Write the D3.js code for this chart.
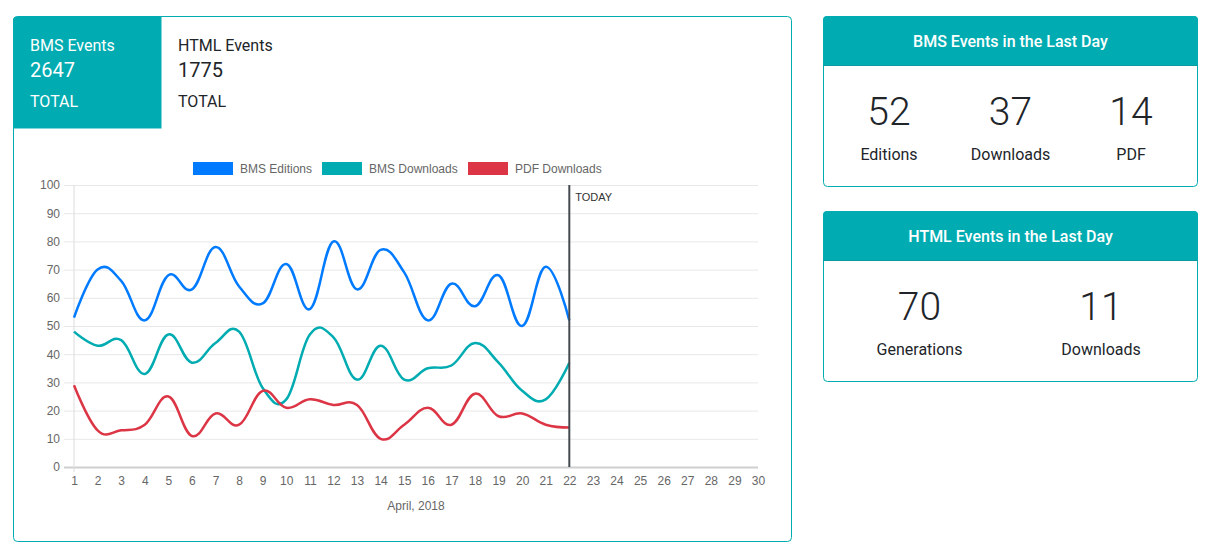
<!DOCTYPE html>
<html>
<head>
<meta charset="utf-8">
<script src="https://cdn.jsdelivr.net/npm/d3@7"></script>
<style>
  body { margin: 0; background: #fff; }
  svg { display: block; }
</style>
</head>
<body>
<div id="dash"></div>
<script>
// values
var days = ["1","2","3","4","5","6","7","8","9","10","11","12","13","14","15",
            "16","17","18","19","20","21","22","23","24","25","26","27","28","29","30"];
var bmsEditions  = [53,70,66,52,68,63,78,64,58,72,56,80,63,77,69,52,65,57,68,50,71,52];
var bmsDownloads = [48,43,45,33,47,37,44,48,28,24,47,46,31,43,31,35,36,44,37,27,24,37];
var pdfDownloads = [29,13,13,15,25,11,19,15,27,21,24,22,22,10,15,21,15,26,18,19,15,14];
var seriesNames  = ["BMS Editions", "BMS Downloads", "PDF Downloads"];
var seriesColors = ["#007bff", "#00acb1", "#dc3545"];
var yTicks = [0,10,20,30,40,50,60,70,80,90,100];
var todayLabel = "22";

var totalsLabels = ["BMS Events", "HTML Events"];
var totalsValues = [2647, 1775];
var bmsDayLabels = ["Editions", "Downloads", "PDF"];
var bmsDayValues = [52, 37, 14];
var htmlDayLabels = ["Generations", "Downloads"];
var htmlDayValues = [70, 11];

var teal = "#00acb1";
var uiFont = "Roboto, 'Noto Sans', sans-serif";
var chartFont = "'Liberation Sans', Arial, sans-serif";

var svg = d3.select('#dash').append('svg').attr('width', 1213).attr('height', 559);

// ---- left card ----
svg.append('rect').attr('x', 13.5).attr('y', 16.5).attr('width', 778).attr('height', 525)
  .attr('rx', 4).attr('fill', '#fff').attr('stroke', teal);
svg.append('path').attr('d', 'M13,128.5V20.5a4,4 0 0 1 4,-4H161.5V128.5Z').attr('fill', teal);

var totalsX = [30, 178];
totalsLabels.forEach(function(l, i) {
  var c = i == 0 ? '#fff' : '#212529';
  var g = svg.append('g').attr('font-family', uiFont).attr('fill', c);
  g.append('text').attr('x', totalsX[i]).attr('y', 51).attr('font-size', 16).text(l);
  g.append('text').attr('x', totalsX[i]).attr('y', 77).attr('font-size', 20).text(totalsValues[i]);
  g.append('text').attr('x', totalsX[i]).attr('y', 107).attr('font-size', 16).text('TOTAL');
});

// ---- chart ----
var margin = {top: 185, left: 74},
    width = 758 - 74,
    height = 467 - 185;

var x = d3.scalePoint().domain(days).range([margin.left, margin.left + width]);
var y = d3.scaleLinear().domain([0, 100]).range([margin.top + height, margin.top]);

var chart = svg.append('g').attr('font-family', chartFont);

// horizontal grid + y axis
var yAxis = d3.axisLeft(y).tickValues(yTicks).tickSize(-width - 10).tickPadding(4);
chart.append('g').attr('transform', 'translate(' + (margin.left - 10) + ',0)').call(yAxis)
  .call(function(g) {
    g.select('.domain').remove();
    g.selectAll('.tick line').attr('stroke', function(d) { return d == 0 ? '#cfcfcf' : '#e8e8e8'; })
      .attr('stroke-width', function(d) { return d == 0 ? 2 : 1; });
    g.selectAll('.tick text').attr('fill', '#666').attr('font-size', 12).attr('font-family', chartFont);
  });
chart.append('line').attr('x1', margin.left).attr('x2', margin.left)
  .attr('y1', margin.top).attr('y2', margin.top + height + 5).attr('stroke', '#dcdcdc');

var xAxis = d3.axisBottom(x).tickSize(0).tickPadding(9);
chart.append('g').attr('transform', 'translate(0,' + (margin.top + height) + ')').call(xAxis)
  .call(function(g) {
    g.select('.domain').remove();
    g.selectAll('.tick text').attr('fill', '#666').attr('font-size', 12).attr('font-family', chartFont);
  });

chart.append('text').attr('x', margin.left + width / 2).attr('y', 510).attr('text-anchor', 'middle')
  .attr('font-size', 12).attr('fill', '#666').text('April, 2018');

// lines
var line = d3.line()
  .x(function(d, i) { return x(days[i]); })
  .y(function(d) { return y(d); })
  .curve(d3.curveCardinal.tension(-0.2));

[bmsEditions, bmsDownloads, pdfDownloads].forEach(function(s, i) {
  chart.append('path').datum(s).attr('d', line).attr('fill', 'none')
    .attr('stroke', seriesColors[i]).attr('stroke-width', 2.5);
});

// today marker
chart.append('line').attr('x1', x(todayLabel)).attr('x2', x(todayLabel))
  .attr('y1', margin.top).attr('y2', margin.top + height)
  .attr('stroke', '#444a50').attr('stroke-width', 2);
chart.append('text').attr('x', x(todayLabel) + 6).attr('y', 201).attr('font-size', 11)
  .attr('fill', '#333').text('TODAY');

// legend
var legendX = [193, 322, 468];
var legend = chart.selectAll('g.leg').data(seriesNames).enter().append('g').attr('class', 'leg')
  .attr('transform', function(d, i) { return 'translate(' + legendX[i] + ',162)'; });
legend.append('rect').attr('width', 40).attr('height', 13).attr('fill', function(d, i) { return seriesColors[i]; });
legend.append('text').attr('x', 47).attr('y', 11).attr('font-size', 12).attr('fill', '#666')
  .text(function(d) { return d; });

// ---- right cards ----
function statCard(top, title, values, labels, centers, numY, labY) {
  svg.append('rect').attr('x', 823.5).attr('y', top + 0.5).attr('width', 374).attr('height', 170)
    .attr('rx', 4).attr('fill', '#fff').attr('stroke', teal);
  svg.append('path').attr('d', 'M823,' + (top + 50) + 'V' + (top + 4) + 'a4,4 0 0 1 4,-4H1194a4,4 0 0 1 4,4V' + (top + 50) + 'Z')
    .attr('fill', teal);
  svg.append('line').attr('x1', 823).attr('x2', 1198).attr('y1', top + 49.5).attr('y2', top + 49.5)
    .attr('stroke', '#0a9aa0');
  var g = svg.append('g').attr('font-family', uiFont).attr('text-anchor', 'middle');
  g.append('text').attr('x', 1010.5).attr('y', top + 31).attr('font-size', 16).attr('font-weight', 500)
    .attr('fill', '#fff').text(title);
  values.forEach(function(v, i) {
    g.append('text').attr('x', centers[i]).attr('y', top + numY).attr('font-size', 39)
      .attr('font-weight', 300).attr('fill', '#212529').text(v);
    g.append('text').attr('x', centers[i]).attr('y', top + labY).attr('font-size', 16)
      .attr('fill', '#212529').text(labels[i]);
  });
}
statCard(16, 'BMS Events in the Last Day', bmsDayValues, bmsDayLabels, [889, 1010.5, 1131], 109, 144);
statCard(211, 'HTML Events in the Last Day', htmlDayValues, htmlDayLabels, [919.5, 1101], 109, 144);
</script>
</body>
</html>
